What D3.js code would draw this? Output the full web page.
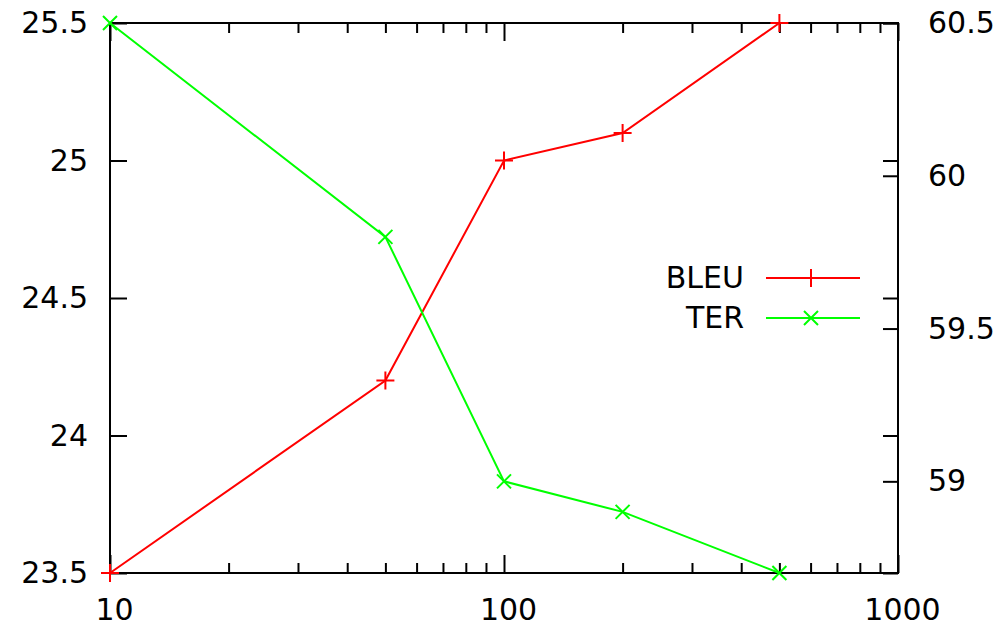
<!DOCTYPE html>
<html>
<head>
<meta charset="utf-8">
<script src="https://cdn.jsdelivr.net/npm/d3@7"></script>
<style>
  body { margin: 0; background: #fff; }
  svg text { font-family: "DejaVu Sans", sans-serif; font-size: 30px; fill: #000; }
</style>
</head>
<body>
<div id="chart"></div>
<script>

// data
var sizes = [10, 50, 100, 200, 500];
var bleu = [23.5, 24.2, 25.0, 25.1, 25.5];
var ter = [60.5, 59.8, 59.0, 58.9, 58.7];

var xMajor = [10, 100, 1000];
var xMinor = [20, 30, 40, 50, 60, 70, 80, 90, 200, 300, 400, 500, 600, 700, 800, 900];
var yTicks = [23.5, 24, 24.5, 25, 25.5];
var y2Ticks = [59, 59.5, 60, 60.5];

var seriesNames = ["BLEU", "TER"];
var seriesColors = ["#ff0000", "#00ff00"];

var svg_w = 1008, svg_h = 627;
var margin = {top: 23, right: 110, bottom: 54, left: 110};
var plot_w = svg_w - margin.left - margin.right;
var plot_h = svg_h - margin.top - margin.bottom;

var svg = d3.select("#chart").append("svg")
    .attr("width", svg_w)
    .attr("height", svg_h)
  .append("g")
    .attr("transform", "translate(" + margin.left + "," + margin.top + ")");

var x = d3.scaleLog().domain([10, 1000]).range([0, plot_w]);
var y = d3.scaleLinear().domain([23.5, 25.5]).range([plot_h, 0]);
var y2 = d3.scaleLinear().domain([58.7, 60.5]).range([plot_h, 0]);

function cleanAxis(g) {
  g.select(".domain").remove();
  g.selectAll("line").attr("stroke", "#000").attr("stroke-width", 2);
  g.selectAll("text").attr("font-size", null).attr("font-family", null);
}

// bottom axis, major + minor ticks
svg.append("g")
    .attr("transform", "translate(0," + plot_h + ")")
    .call(d3.axisBottom(x).tickValues(xMajor).tickSize(-18).tickPadding(26).tickFormat(d3.format("d")))
    .call(cleanAxis)
    .selectAll("text").attr("dx", 4);
svg.append("g")
    .attr("transform", "translate(0," + plot_h + ")")
    .call(d3.axisBottom(x).tickValues(xMinor).tickSize(-10).tickFormat(""))
    .call(cleanAxis);

// mirrored ticks on top
svg.append("g")
    .call(d3.axisTop(x).tickValues(xMajor).tickSize(-18).tickFormat(""))
    .call(cleanAxis);
svg.append("g")
    .call(d3.axisTop(x).tickValues(xMinor).tickSize(-10).tickFormat(""))
    .call(cleanAxis);

// left axis
svg.append("g")
    .call(d3.axisLeft(y).tickValues(yTicks).tickSize(-17).tickPadding(22).tickFormat(d3.format("")))
    .call(cleanAxis);
// left ticks mirrored on the right
svg.append("g")
    .attr("transform", "translate(" + plot_w + ",0)")
    .call(d3.axisRight(y).tickValues(yTicks).tickSize(-15).tickFormat(""))
    .call(cleanAxis);

// right axis (TER)
svg.append("g")
    .attr("transform", "translate(" + plot_w + ",0)")
    .call(d3.axisRight(y2).tickValues(y2Ticks).tickSize(-15).tickPadding(30).tickFormat(d3.format("")))
    .call(cleanAxis);

// frame
svg.append("rect")
    .attr("width", plot_w)
    .attr("height", plot_h)
    .attr("fill", "none")
    .attr("stroke", "#000")
    .attr("stroke-width", 2);

var bleuData = sizes.map(function(s, i) { return {x: s, v: bleu[i]}; });
var terData = sizes.map(function(s, i) { return {x: s, v: ter[i]}; });

function plusPath(cx, cy, r) {
  return "M" + (cx - r) + "," + cy + "H" + (cx + r) + "M" + cx + "," + (cy - r) + "V" + (cy + r);
}
function crossPath(cx, cy, r) {
  return "M" + (cx - r) + "," + (cy - r) + "L" + (cx + r) + "," + (cy + r) +
         "M" + (cx - r) + "," + (cy + r) + "L" + (cx + r) + "," + (cy - r);
}

// BLEU line
svg.append("path")
    .datum(bleuData)
    .attr("fill", "none")
    .attr("stroke", seriesColors[0])
    .attr("stroke-width", 2)
    .attr("d", d3.line()
      .x(function(d) { return x(d.x); })
      .y(function(d) { return y(d.v); }));
svg.selectAll(".bleu-pt")
    .data(bleuData)
  .enter().append("path")
    .attr("class", "bleu-pt")
    .attr("fill", "none")
    .attr("stroke", seriesColors[0])
    .attr("stroke-width", 2)
    .attr("d", function(d) { return plusPath(x(d.x), y(d.v), 9); });

// TER line
svg.append("path")
    .datum(terData)
    .attr("fill", "none")
    .attr("stroke", seriesColors[1])
    .attr("stroke-width", 2)
    .attr("d", d3.line()
      .x(function(d) { return x(d.x); })
      .y(function(d) { return y2(d.v); }));
svg.selectAll(".ter-pt")
    .data(terData)
  .enter().append("path")
    .attr("class", "ter-pt")
    .attr("fill", "none")
    .attr("stroke", seriesColors[1])
    .attr("stroke-width", 2)
    .attr("d", function(d) { return crossPath(x(d.x), y2(d.v), 7); });

// legend
var leg = svg.append("g")
    .attr("transform", "translate(" + (plot_w - 132) + "," + (plot_h / 2 - 20) + ")");
seriesNames.forEach(function(name, i) {
  var ly = i * 40;
  leg.append("text")
      .attr("x", -22)
      .attr("y", ly)
      .attr("dy", "0.32em")
      .attr("text-anchor", "end")
      .text(name);
  leg.append("line")
      .attr("x1", 0).attr("x2", 94)
      .attr("y1", ly).attr("y2", ly)
      .attr("stroke", seriesColors[i])
      .attr("stroke-width", 2);
  leg.append("path")
      .attr("fill", "none")
      .attr("stroke", seriesColors[i])
      .attr("stroke-width", 2)
      .attr("d", i == 0 ? plusPath(45, ly, 9) : crossPath(45, ly, 7));
});

</script>
</body>
</html>
